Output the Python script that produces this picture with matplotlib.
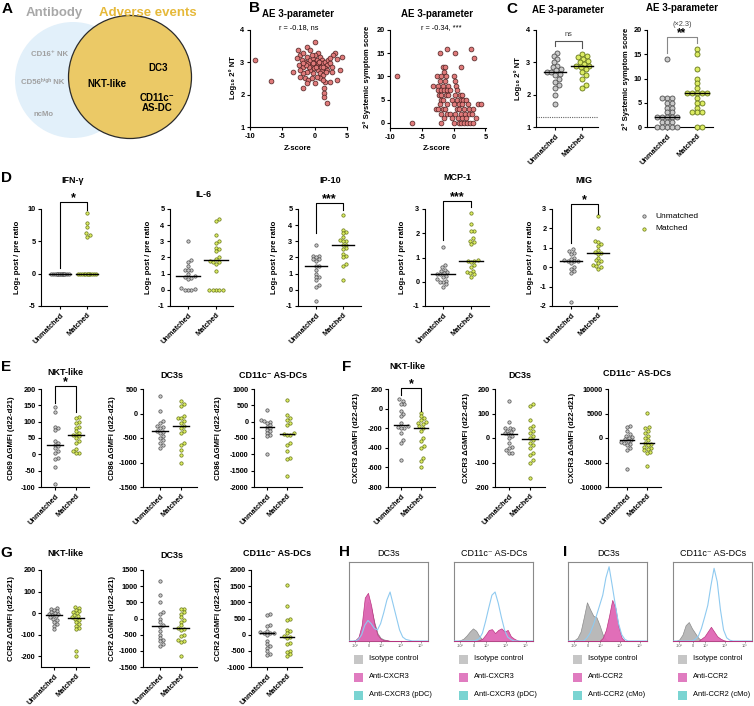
import numpy as np
import matplotlib
matplotlib.use('Agg')
import matplotlib.pyplot as plt
from matplotlib.patches import Circle, Rectangle

plt.rcParams['font.family'] = ['Liberation Sans', 'DejaVu Sans']
plt.rcParams['font.weight'] = 'bold'
plt.rcParams['axes.unicode_minus'] = False

# ---------------- DATA ----------------
# Panel B left: Z-score vs Log10 2nd NT
b1_z = [-9.2, -6.8, -2.53, -2.27, -1.75, -1.24, -1.49, -2.01, -2.37, -1.75, -0.98, -0.72, -0.21, -0.46,
        0.05, 0.31, 0.57, 0.82, 1.08, 0.31, 0.82, 1.34, 1.6, 1.86, 2.11, 2.37, 0.57, 1.08, 1.6, 1.96,
        0.82, 1.34, 0.82, 0.31, -0.21, -0.72, -1.24, -1.75, -2.27, -1.49, -0.98, -0.46, -1.75, -1.24,
        0.05, 1.6, 2.37, 2.63, 3.14, 2.89, 3.5, 4.28, 3.92, 2.37, 2.63, 0.05, -1.24, -0.72, -3.4, 1.44,
        1.44, 1.44, 1.86, 1.24, 3.5, -0.1, 0.2, 0.57, 0.93, 1.24, -0.3, -0.82, -1.34, -1.85, 1.75, 0.72,
        0.1, -0.41, -2.27, -2.68]
b1_nt = [3.07, 2.43, 3.38, 3.23, 3.28, 3.18, 3.02, 3.07, 2.92, 2.87, 2.97, 3.07, 3.12, 2.92,
         3.02, 3.07, 3.28, 3.18, 3.07, 2.92, 2.92, 2.97, 3.02, 2.92, 3.07, 2.97, 2.76, 2.76, 2.81, 2.76,
         2.66, 2.61, 2.51, 2.56, 2.66, 2.76, 2.71, 2.66, 2.56, 2.51, 2.45, 2.51, 2.2, 2.35,
         2.35, 2.4, 2.4, 2.71, 3.28, 3.23, 3.09, 3.18, 2.76, 3.12, 2.87, 3.64, 3.48, 3.38, 2.71, 2.2,
         2.04, 1.92, 1.73, 2.45, 2.45, 2.81, 2.87, 2.97, 2.87, 2.87, 2.97, 2.87, 2.92, 2.97, 2.71, 3.02,
         3.23, 3.23, 2.76, 3.12]
# Panel B right: Z-score vs 2nd systemic symptom score
b2_z = [-8.9, -6.5, -3.2, -2.2, -1.1, 0.2, 1.2, 2.8, 3.2, -1.6, -1.3, -1.5,
        -2.6, -2.0, -1.2, 0.0, -2.2, -1.4, 0.2, -2.5, -1.7, -0.8, 0.4,
        -2.4, -2.0, -1.5, -1.0, -0.5, 0.5, -2.3, -1.9, -1.2, -0.8, 0.3, 1.0, 1.3,
        -2.0, -1.6, -0.3, 0.6, 1.2, 1.5, 2.0, -2.2, -1.0, 0.0, 0.8, 1.4, 2.2, 3.9, 4.3,
        -2.8, -2.5, -1.7, -1.3, 0.5, 0.9, 1.6, 2.5, 3.1, -2.0, -1.1, -0.6, 0.2, 1.1, 1.8, 2.4, 2.9,
        -1.5, -0.2, 0.7, 1.3, 2.0, 3.5, -2.0, 0.1, 0.8, 1.2, 1.6, 2.1, 2.6, 3.0]
b2_score = [10, 0, 8, 15, 16, 15, 12, 16, 14, 12, 12, 11,
            10, 10, 10, 10, 9, 9, 9, 8, 8, 8, 8,
            7, 7, 7, 7, 7, 7, 6, 6, 6, 6, 6, 6, 6,
            5, 5, 5, 5, 5, 5, 5, 4, 4, 4, 4, 4, 4, 4, 4,
            3, 3, 3, 3, 3, 3, 3, 3, 3, 2, 2, 2, 2, 2, 2, 2, 2,
            1, 1, 1, 1, 1, 1, 0, 0, 0, 0, 0, 0, 0, 0]

# Panel C
c1_un = [3.3, 3.2, 3.1, 3.0, 2.9, 2.85, 2.8, 2.75, 2.7, 2.7, 2.65, 2.6, 2.5, 2.4, 2.3, 2.2, 2.0, 1.7]
c1_m = [3.25, 3.2, 3.15, 3.1, 3.05, 3.0, 2.95, 2.9, 2.88, 2.85, 2.8, 2.7, 2.6, 2.5, 2.3, 2.2]
c2_un = [14, 6, 6, 6, 5, 5, 4, 4, 3, 3, 2, 2, 2, 2, 2, 2, 1, 1, 1, 0, 0, 0, 0, 0]
c2_m = [16, 15, 12, 10, 9, 8, 7, 7, 7, 7, 7, 6, 5, 5, 4, 3, 3, 3, 0, 0]

# Panel D (log2 post/pre ratio)
ifn_un = [0.0] * 16
ifn_m = [9.4, 7.9, 7.2, 6.3, 6.0, 5.6] + [0.0] * 12
il6_un = [3.05, 1.85, 1.75, 1.5, 1.2, 1.2, 1.2, 1.0, 0.85, 0.8, 0.75, 0.7, 0.1, 0.05, 0.0, 0.0, 0.0]
il6_m = [4.4, 4.25, 3.4, 3.0, 2.9, 2.6, 2.5, 2.4, 2.0, 1.9, 1.8, 1.75, 1.7, 1.6, 1.15, 0, 0, 0, 0, 0]
ip10_un = [2.75, 2.1, 2.1, 2.0, 1.9, 1.9, 1.8, 1.5, 1.5, 1.2, 1.0, 0.8, 0.8, 0.6, 0.3, 0.2, -0.7]
ip10_m = [4.6, 3.7, 3.6, 3.5, 3.25, 3.1, 3.0, 3.0, 2.8, 2.75, 2.6, 2.5, 2.2, 2.1, 2.0, 1.6, 1.5, 0.6]
mcp1_un = [1.45, 0.7, 0.6, 0.5, 0.45, 0.4, 0.35, 0.3, 0.3, 0.25, 0.2, 0.1, 0.05, 0.0, -0.1, -0.2, 0.0]
mcp1_m = [2.85, 2.4, 2.1, 2.1, 1.8, 1.7, 1.65, 1.55, 0.9, 0.85, 0.85, 0.8, 0.7, 0.6, 0.45, 0.4, 0.35, 0.3, 0.2]
mig_un = [0.95, 0.85, 0.75, 0.7, 0.5, 0.4, 0.35, 0.3, 0.3, 0.3, 0.2, 0.0, -0.1, -0.2, -0.3, -1.8]
mig_m = [2.65, 2.0, 1.35, 1.3, 1.2, 1.1, 0.9, 0.8, 0.75, 0.7, 0.5, 0.35, 0.3, 0.2, 0.1, 0.05, -0.1, 0.0]

# Panel E (CD69 / CD86 delta GMFI)
e_nkt_un = [145, 130, 85, 80, 75, 40, 35, 30, 25, 20, 10, 5, -10, -15, -40, -90]
e_nkt_m = [115, 110, 100, 95, 85, 80, 70, 65, 60, 60, 55, 50, 40, 35, 15, 10, 5, 5]
e_dc3_un = [360, 50, -150, -200, -250, -280, -300, -350, -380, -400, -450, -500, -550, -600, -650, -700]
e_dc3_m = [250, 200, 150, -50, -100, -100, -150, -200, -250, -300, -350, -400, -600, -650, -750, -850, -1000]
e_as_un = [350, 50, 30, 0, -50, -100, -150, -200, -250, -300, -350, -400, -450, -1000]
e_as_m = [650, 200, 100, 50, -50, -100, -350, -380, -400, -400, -650, -700, -900, -1100, -1150, -1650]

# Panel F (CXCR3 delta GMFI)
f_nkt_un = [100, 80, 50, 50, -20, -50, -80, -150, -180, -190, -200, -200, -250, -320, -350, -520]
f_nkt_m = [-40, -80, -100, -120, -140, -150, -160, -180, -200, -230, -300, -330, -380, -400, -500, -530, -600]
f_dc3_un = [150, 65, 40, 40, 35, 30, 25, 20, 15, 10, 0, -20, -35, -40, -50, -60, -60]
f_dc3_m = [140, 130, 75, 50, 40, 30, 20, 10, 0, -10, -20, -30, -40, -60, -70, -90, -100, -165]
f_as_un = [2500, 2200, 1500, 800, 500, 200, 0, -200, -500, -700, -800, -1000, -1200, -1500, -2000, -2500, -6300]
f_as_m = [5200, 2200, 2000, 1500, 1000, 500, 0, -500, -1000, -1200, -1500, -1800, -2000, -2200, -2500, -2800, -3000, -5700]

# Panel G (CCR2 delta GMFI)
g_nkt_un = [25, 20, 15, 10, 5, 0, -5, -5, -10, -15, -20, -25, -30, -40, -50, -60, -75]
g_nkt_m = [30, 25, 15, 10, 5, 0, -10, -15, -20, -25, -30, -40, -50, -60, -70, -75, -175, -200]
g_dc3_un = [1150, 720, 500, 200, 150, 0, -100, -200, -250, -400, -500, -600, -650, -700, -800, -850]
g_dc3_m = [300, 280, 200, 150, 50, -50, -100, -200, -300, -330, -350, -500, -550, -650, -700, -720, -1150]
g_as_un = [650, 600, 300, 280, 100, 80, 60, 50, 50, 0, -200, -300, -350, -400, -500, -600, -620]
g_as_m = [1550, 900, 500, 450, 150, 100, 50, -50, -80, -100, -250, -300, -500, -550, -600, -650]

# Panels H / I histograms (channel grid 0-100, % of max)
hist_x = [0, 4, 8, 12, 16, 20, 24, 28, 32, 36, 40, 44, 48, 52, 56, 60, 64, 68, 72, 76, 80, 84, 88, 92, 96, 100]
h_dc3_iso = [0, 0, 1, 4, 14, 38, 50, 42, 24, 10, 4, 2, 1, 0, 0, 0, 0, 0, 0, 0, 0, 0, 0, 0, 0, 0]
h_dc3_ab = [0, 0, 1, 5, 20, 55, 61, 45, 22, 8, 3, 1, 1, 0, 0, 0, 0, 0, 0, 0, 0, 0, 0, 0, 0, 0]
h_dc3_ctrl = [0, 0, 0, 2, 8, 20, 26, 22, 16, 14, 22, 36, 52, 62, 46, 30, 14, 5, 2, 1, 0, 0, 0, 0, 0, 0]
h_as_iso = [0, 0, 1, 3, 7, 12, 16, 13, 6, 2, 1, 0, 0, 0, 0, 0, 0, 0, 0, 0, 0, 0, 0, 0, 0, 0]
h_as_ab = [0, 0, 0, 0, 0, 0, 0, 0, 1, 3, 8, 14, 15, 10, 14, 16, 12, 14, 6, 3, 1, 0, 0, 0, 0, 0]
h_as_ctrl = [0, 0, 0, 0, 0, 0, 0, 1, 3, 10, 25, 42, 58, 62, 48, 30, 14, 5, 2, 0, 0, 0, 0, 0, 0, 0]
i_dc3_iso = [0, 0, 1, 4, 12, 30, 49, 40, 32, 30, 20, 8, 2, 0, 0, 0, 0, 0, 0, 0, 0, 0, 0, 0, 0, 0]
i_dc3_ab = [0, 0, 0, 0, 0, 0, 0, 0, 0, 0, 0, 4, 14, 32, 52, 42, 18, 4, 0, 0, 0, 0, 0, 0, 0, 0]
i_dc3_ctrl = [0, 0, 0, 0, 0, 0, 4, 10, 20, 32, 45, 58, 80, 94, 70, 45, 22, 8, 2, 0, 0, 0, 0, 0, 0, 0]
i_as_iso = [0, 0, 2, 8, 20, 24, 16, 10, 4, 1, 0, 0, 0, 0, 0, 0, 0, 0, 0, 0, 0, 0, 0, 0, 0, 0]
i_as_ab = [0, 0, 0, 0, 0, 0, 0, 0, 0, 3, 6, 12, 18, 12, 6, 3, 1, 0, 0, 0, 0, 0, 0, 0, 0, 0]
i_as_ctrl = [0, 0, 0, 0, 0, 0, 0, 2, 6, 16, 30, 45, 70, 92, 75, 40, 14, 4, 1, 0, 0, 0, 0, 0, 0, 0]
hist_ticks = [7.5, 25, 41, 66, 91]
hist_ticklabels = ['-10³', '0', '10³', '10⁴', '10⁵']

groups = ['Unmatched', 'Matched']

# ---------------- FIGURE ----------------
W, H = 754, 706
fig = plt.figure(figsize=(W / 100, H / 100), dpi=100)


def pax(x0, y0, x1, y1):
    return fig.add_axes([x0 / W, 1 - y1 / H, (x1 - x0) / W, (y1 - y0) / H])


def ftxt(x, y, s, **kw):
    kw.setdefault('ha', 'center')
    kw.setdefault('va', 'center')
    return fig.text(x / W, 1 - y / H, s, **kw)


def style(ax, fs=5.3):
    for s in ['top', 'right']:
        ax.spines[s].set_visible(False)
    for s in ['left', 'bottom']:
        ax.spines[s].set_linewidth(0.8)
    ax.tick_params(length=2.5, width=0.8, labelsize=fs, pad=1.5)
    for lab in ax.get_xticklabels() + ax.get_yticklabels():
        lab.set_fontweight('bold')


def swarm(vals, ppy, d, half):
    order = np.argsort(vals)
    placed = []
    offs = np.zeros(len(vals))
    step = d / 4.0
    cands = [0.0]
    k = 1
    while k * step <= half + 1e-9:
        cands += [k * step, -k * step]
        k += 1
    for i in order:
        y = vals[i] * ppy
        best, bestd = 0.0, -1
        chosen = None
        for c in cands:
            if placed:
                md = min(np.hypot(c - px, y - py) for px, py in placed)
            else:
                md = 1e9
            if md >= d * 0.95:
                chosen = c
                break
            if md > bestd:
                bestd, best = md, c
        if chosen is None:
            chosen = best
        offs[i] = chosen
        placed.append((chosen, y))
    return offs


GRAY_FC, GRAY_EC = '#c9c9c9', '#505050'
GRN_FC, GRN_EC = '#dcec62', '#66761a'


def dotplot(xsp, xc0, xc1, xend, ytop, ybot, ylim, yticks, un, m, ylabel, ylx,
            d=3.4, half=8.0, msize=5.8, mlw=0.5, hw=0.38, fs=5.3, xfs=5.3):
    ax = pax(xsp, ytop, xend, ybot)
    sp = xc1 - xc0
    ax.set_xlim((xsp - xc0) / sp, (xend - xc0) / sp)
    ax.set_ylim(*ylim)
    ppy = (ybot - ytop) / (ylim[1] - ylim[0])
    for i, (vals, fc, ec) in enumerate([(un, GRAY_FC, GRAY_EC), (m, GRN_FC, GRN_EC)]):
        v = np.array(vals, dtype=float)
        offs = swarm(v, ppy, d, half)
        ax.scatter(i + offs / sp, v, s=msize, facecolor=fc, edgecolor=ec, linewidth=mlw,
                   zorder=3, clip_on=False)
        med = np.median(v)
        ax.plot([i - hw, i + hw], [med, med], color='k', lw=1.0, zorder=4)
    ax.set_yticks(yticks)
    ax.set_yticklabels([str(t) for t in yticks])
    ax.set_xticks([0, 1])
    ax.set_xticklabels(groups, rotation=45, ha='right', rotation_mode='anchor', fontsize=xfs)
    style(ax, fs)
    ax.tick_params(axis='x', labelsize=xfs)
    ftxt(ylx, (ytop + ybot) / 2, ylabel, rotation=90, fontsize=5.6, fontweight='bold')
    return ax


# ---- Panel A (Venn) ----
axA = pax(0, 0, 230, 140)
axA.set_xlim(0, 230)
axA.set_ylim(140, 0)
axA.axis('off')
axA.add_patch(Circle((73, 80), 58, facecolor='#e2f0fa', edgecolor='none'))
axA.add_patch(Circle((130, 77), 61.5, facecolor='#ebc966', edgecolor='#2b2b2b', lw=0.9))
ftxt(7, 9, 'A', fontsize=11, fontweight='bold')
ftxt(54, 13, 'Antibody', fontsize=9.5, color='#a8a8a8', fontweight='bold')
ftxt(148, 13, 'Adverse events', fontsize=9.5, color='#e6b93a', fontweight='bold')
ftxt(50, 55, 'CD16⁺ NK', fontsize=5.6, color='#a0a0a0', fontweight='bold')
ftxt(43, 83, 'CD56ʰⁱᵍʰ NK', fontsize=5.6, color='#a0a0a0', fontweight='bold')
ftxt(43, 114, 'ncMo', fontsize=5.6, color='#a0a0a0', fontweight='bold')
ftxt(107, 84, 'NKT-like', fontsize=7, fontweight='bold')
ftxt(158, 68, 'DC3', fontsize=7, fontweight='bold')
ftxt(157, 103, 'CD11c⁻\nAS-DC', fontsize=7, fontweight='bold', linespacing=1.1)

# ---- Panel B ----
ftxt(255, 8, 'B', fontsize=11, fontweight='bold')
axB1 = pax(250, 30, 347, 127)
axB1.scatter(b1_z, b1_nt, s=12, facecolor='#e07a7a', edgecolor='#4a1f1f', linewidth=0.5, zorder=3, clip_on=False)
axB1.set_xlim(-10, 5)
axB1.set_ylim(1, 4)
axB1.set_xticks([-10, -5, 0, 5])
axB1.set_yticks([1, 2, 3, 4])
style(axB1)
ftxt(298, 14, 'AE 3-parameter', fontsize=7, fontweight='bold')
ftxt(299, 28, 'r = -0.18, ns', fontsize=5.3, fontweight='normal')
ftxt(298, 148, 'Z-score', fontsize=5.6, fontweight='bold')
ftxt(233, 78, 'Log₁₀ 2° NT', rotation=90, fontsize=5.6, fontweight='bold')

axB2 = pax(390, 30, 486, 128)
axB2.scatter(b2_z, b2_score, s=12, facecolor='#e07a7a', edgecolor='#4a1f1f', linewidth=0.5, zorder=3, clip_on=False)
axB2.set_xlim(-10, 5.1)
axB2.set_ylim(-1.1, 20)
axB2.set_xticks([-10, -5, 0, 5])
axB2.set_yticks([0, 5, 10, 15, 20])
style(axB2)
ftxt(437, 14, 'AE 3-parameter', fontsize=7, fontweight='bold')
ftxt(441, 28, 'r = -0.34, ***', fontsize=5.3, fontweight='normal')
ftxt(437, 148, 'Z-score', fontsize=5.6, fontweight='bold')
ftxt(367, 77, '2° Systemic symptom score', rotation=90, fontsize=5.6, fontweight='bold')

# ---- Panel C ----
ftxt(512, 9, 'C', fontsize=11, fontweight='bold')
axC1 = dotplot(536, 555, 582, 598, 30, 127, (1, 4), [1, 2, 3, 4], c1_un, c1_m,
               'Log₁₀ 2° NT', 518, d=4.8, half=11, msize=13, mlw=0.6, hw=0.4)
axC1.axhline(1.3, color='#666666', lw=0.8, ls=(0, (1, 1)), zorder=1)
ftxt(568, 10, 'AE 3-parameter', fontsize=7, fontweight='bold')
axC2 = dotplot(647, 667, 697, 713, 30, 127, (0, 20), [0, 5, 10, 15, 20], c2_un, c2_m,
               '2° Systemic symptom score', 626, d=4.8, half=11, msize=13, mlw=0.6, hw=0.4)
ftxt(682, 8, 'AE 3-parameter', fontsize=7, fontweight='bold')

# ---- Panel D ----
ftxt(6, 178, 'D', fontsize=11, fontweight='bold')
lab_d = 'Log₂ post / pre ratio'
dotplot(41, 60, 87, 107, 209, 306, (-5, 10), [-5, 0, 5, 10], ifn_un, ifn_m, lab_d, 18, half=10, hw=0.42)
ftxt(73, 181, 'IFN-γ', fontsize=6.5, fontweight='bold')
dotplot(170, 188, 216, 233, 209, 306, (-1, 5), [-1, 0, 1, 2, 3, 4, 5], il6_un, il6_m, lab_d, 149, half=10, hw=0.42)
ftxt(203, 194, 'IL-6', fontsize=6.5, fontweight='bold')
dotplot(298, 316, 343, 361, 209, 306, (-1, 5), [-1, 0, 1, 2, 3, 4, 5], ip10_un, ip10_m, lab_d, 275, half=10, hw=0.42)
ftxt(330, 181, 'IP-10', fontsize=6.5, fontweight='bold')
dotplot(425, 443, 471, 489, 209, 306, (-1, 3), [-1, 0, 1, 2, 3], mcp1_un, mcp1_m, lab_d, 402, half=10, hw=0.42)
ftxt(457, 178, 'MCP-1', fontsize=6.5, fontweight='bold')
dotplot(552, 571, 598, 617, 209, 306, (-2, 3), [-2, -1, 0, 1, 2, 3], mig_un, mig_m, lab_d, 530, half=10, hw=0.42)
ftxt(584, 181, 'MIG', fontsize=6.5, fontweight='bold')

# ---- Panel E ----
ftxt(6, 367, 'E', fontsize=11, fontweight='bold')
dotplot(41, 55, 76, 89, 389, 487, (-100, 200), [-100, -50, 0, 50, 100, 150, 200], e_nkt_un, e_nkt_m,
        'CD69 ΔGMFI (d22-d21)', 12, half=7.5, hw=0.36)
ftxt(65, 373, 'NKT-like', fontsize=6.5, fontweight='bold')
dotplot(143, 160, 181, 197, 389, 487, (-1500, 500), [-1500, -1000, -500, 0, 500], e_dc3_un, e_dc3_m,
        'CD86 ΔGMFI (d22-d21)', 112, half=7.5, hw=0.36)
ftxt(172, 375, 'DC3s', fontsize=6.5, fontweight='bold')
dotplot(254, 267, 287, 302, 389, 487, (-2000, 1000), [-2000, -1500, -1000, -500, 0, 500, 1000], e_as_un, e_as_m,
        'CD86 ΔGMFI (d22-d21)', 218, half=7.5, hw=0.36)
ftxt(273, 375, 'CD11c⁻ AS-DCs', fontsize=6.5, fontweight='bold')

# ---- Panel F ----
ftxt(347, 367, 'F', fontsize=11, fontweight='bold')
dotplot(388, 401, 421, 435, 389, 487, (-800, 200), [-800, -600, -400, -200, 0, 200], f_nkt_un, f_nkt_m,
        'CXCR3 ΔGMFI (d22-d21)', 356, half=7.5, hw=0.36)
ftxt(407, 366, 'NKT-like', fontsize=6.5, fontweight='bold')
dotplot(495, 509, 530, 545, 389, 487, (-200, 200), [-200, -100, 0, 100, 200], f_dc3_un, f_dc3_m,
        'CXCR3 ΔGMFI (d22-d21)', 466, half=7.5, hw=0.36)
ftxt(520, 375, 'DC3s', fontsize=6.5, fontweight='bold')
dotplot(608, 627, 647, 661, 389, 487, (-10000, 10000), [-10000, -5000, 0, 5000, 10000], f_as_un, f_as_m,
        'CXCR3 ΔGMFI (d22-d21)', 573, half=7.5, hw=0.36)
ftxt(637, 374, 'CD11c⁻ AS-DCs', fontsize=6.5, fontweight='bold')

# ---- Panel G ----
ftxt(6, 553, 'G', fontsize=11, fontweight='bold')
dotplot(41, 54, 76, 89, 570, 667, (-250, 200), [-200, -100, 0, 100, 200], g_nkt_un, g_nkt_m,
        'CCR2 ΔGMFI (d22-d21)', 12, half=7.5, hw=0.36)
ftxt(65, 554, 'NKT-like', fontsize=6.5, fontweight='bold')
dotplot(143, 160, 181, 197, 570, 667, (-1500, 1500), [-1500, -1000, -500, 0, 500, 1000, 1500], g_dc3_un, g_dc3_m,
        'CCR2 ΔGMFI (d22-d21)', 112, half=7.5, hw=0.36)
ftxt(172, 555, 'DC3s', fontsize=6.5, fontweight='bold')
dotplot(251, 267, 287, 302, 570, 667, (-1000, 2000), [-1000, -500, 0, 500, 1000, 1500, 2000], g_as_un, g_as_m,
        'CCR2 ΔGMFI (d22-d21)', 218, half=7.5, hw=0.36)
ftxt(277, 554, 'CD11c⁻ AS-DCs', fontsize=6.5, fontweight='bold')

# ---- Panels H / I ----
ftxt(344, 552, 'H', fontsize=11, fontweight='bold')
ftxt(565, 552, 'I', fontsize=11, fontweight='bold')

ISO_C, AB_C, AB_E, CTRL_C = '#b9b9b9', '#e066b4', '#b8307e', '#8fcaf0'


def histbox(x0, title, iso, ab, ctrl, labels):
    ax = pax(x0, 562, x0 + 79, 641)
    ax.fill_between(hist_x, iso, color=ISO_C, edgecolor='#8c8c8c', lw=0.5, zorder=2)
    ax.fill_between(hist_x, ab, color=AB_C, edgecolor=AB_E, lw=0.5, alpha=0.95, zorder=3)
    ax.plot(hist_x, ctrl, color=CTRL_C, lw=0.8, zorder=4)
    ax.set_xlim(0, 100)
    ax.set_ylim(0, 100)
    for s in ax.spines.values():
        s.set_linewidth(0.8)
        s.set_color('#8a8a8a')
    ax.set_yticks([])
    ax.set_xticks(hist_ticks)
    ax.set_xticklabels(hist_ticklabels, fontsize=2.8, fontweight='normal', color='#555555')
    ax.tick_params(axis='x', length=1.2, width=0.4, pad=0.8, colors='#555555')
    ftxt(x0 + 40, 553, title, fontsize=6.5, fontweight='normal')
    for k, (lab, col) in enumerate(zip(labels, ['#c6c6c6', '#e07cc0', '#7ad4d2'])):
        yc = 659 + 18 * k
        fig.patches.append(Rectangle(((x0 + 5) / W, 1 - (yc + 4.5) / H), 9 / W, 9 / H,
                                     transform=fig.transFigure, facecolor=col, edgecolor='none'))
        ftxt(x0 + 20, yc, lab, ha='left', fontsize=5.4, fontweight='normal')


lab_h = ['Isotype control', 'Anti-CXCR3', 'Anti-CXCR3 (pDC)']
lab_i = ['Isotype control', 'Anti-CCR2', 'Anti-CCR2 (cMo)']
histbox(349, 'DC3s', h_dc3_iso, h_dc3_ab, h_dc3_ctrl, lab_h)
histbox(454, 'CD11c⁻ AS-DCs', h_as_iso, h_as_ab, h_as_ctrl, lab_h)
histbox(568, 'DC3s', i_dc3_iso, i_dc3_ab, i_dc3_ctrl, lab_i)
histbox(673, 'CD11c⁻ AS-DCs', i_as_iso, i_as_ab, i_as_ctrl, lab_i)

# ---- overlay: brackets, stars, legend ----
ov = fig.add_axes([0, 0, 1, 1], facecolor='none')
ov.set_xlim(0, W)
ov.set_ylim(H, 0)
ov.axis('off')


def bracket(x0, x1, top, yl, yr, txt, ty, col='k', fs=9, tcol='k', tw='bold'):
    ov.plot([x0, x0, x1, x1], [yl, top, top, yr], color=col, lw=0.8)
    ov.text((x0 + x1) / 2, ty, txt, ha='center', va='center', fontsize=fs, color=tcol, fontweight=tw)


bracket(555, 582, 40.7, 46, 48.3, 'ns', 35, col='#555555', fs=5.3, tcol='#444444', tw='normal')
bracket(667, 697, 37.3, 53.3, 43.3, '**', 33, col='#888888', fs=8.5)
ov.text(682, 24, '(×2.3)', ha='center', va='center', fontsize=5.3, color='#444444', fontweight='normal')
bracket(60, 87, 202, 268, 210, '*', 198)
bracket(316, 343, 203, 233, 210, '***', 199)
bracket(443, 471, 201, 240, 207, '***', 197)
bracket(571, 598, 204, 243, 214, '*', 200)
bracket(55, 76, 386, 403, 412, '*', 382)
bracket(401, 421, 388, 395, 411, '*', 384)

ov.scatter([644], [216], s=5.8, facecolor=GRAY_FC, edgecolor=GRAY_EC, linewidth=0.5)
ov.scatter([644], [229], s=5.8, facecolor=GRN_FC, edgecolor=GRN_EC, linewidth=0.5)
ov.text(655, 216, 'Unmatched', ha='left', va='center', fontsize=6, fontweight='normal')
ov.text(655, 229, 'Matched', ha='left', va='center', fontsize=6, fontweight='normal')

fig.savefig('out.png', dpi=100)
